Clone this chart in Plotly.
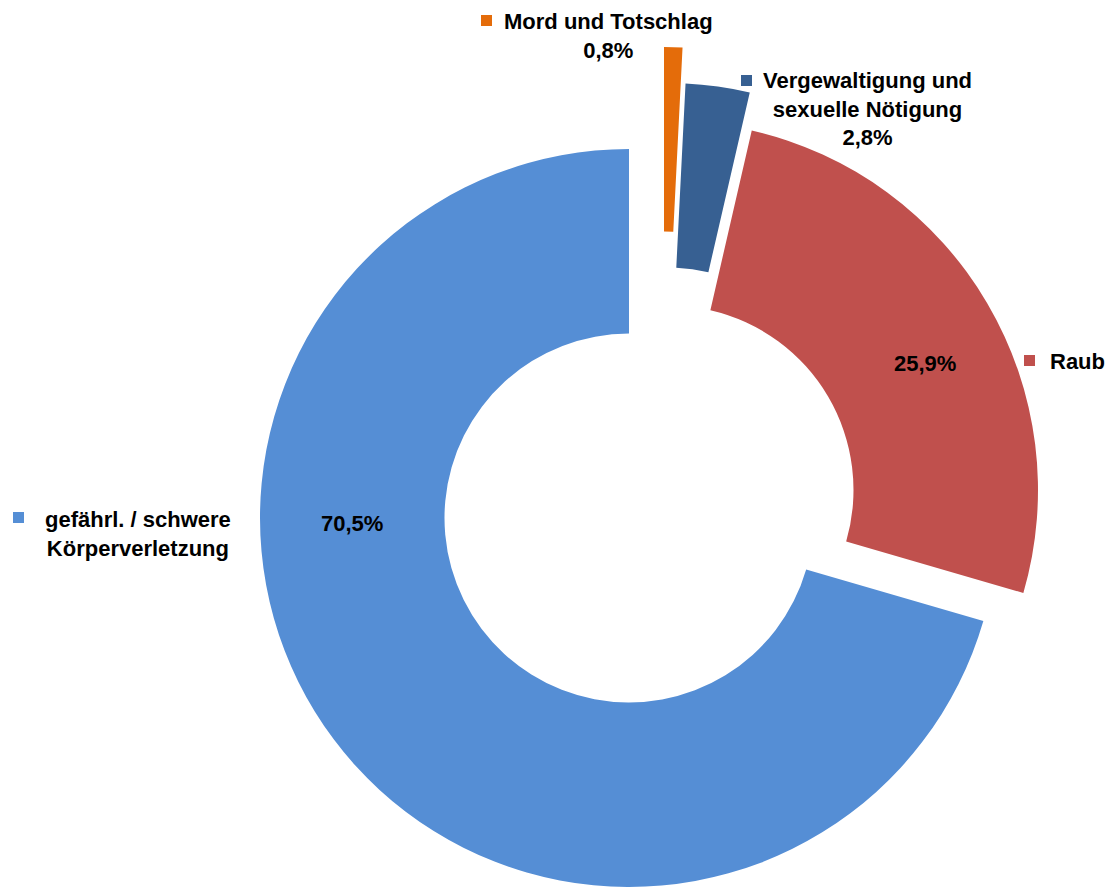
import plotly.graph_objects as go

# ------------------------ DATA ------------------------
categories = ["Mord und Totschlag", "Vergewaltigung und sexuelle Nötigung", "Raub", "gefährl. / schwere Körperverletzung"]
shares = [0.8, 2.8, 25.9, 70.5]
share_labels = ["0,8%", "2,8%", "25,9%", "70,5%"]
colors = ["#E46C0A", "#376092", "#C0504D", "#558ED5"]

# ------------------------ LAYOUT SETTINGS ------------------------
W, H = 1112, 888
R = 369  # outer radius in px
# centre of every (exploded) slice in px
centers = [(664, 416), (667, 452), (669, 490), (629, 518)]

fig = go.Figure()

# one pie per slice so each slice can be exploded on its own
for i, (cx, cy) in enumerate(centers):
    slice_colors = [colors[j] if j == i else "rgba(0,0,0,0)" for j in range(len(shares))]
    fig.add_trace(go.Pie(
        labels=categories, values=shares,
        sort=False, direction="clockwise", rotation=0, hole=0.5,
        marker=dict(colors=slice_colors, line=dict(width=0)),
        textinfo="none", hoverinfo="label+percent",
        showlegend=False,
        domain=dict(x=[(cx - R) / W, (cx + R) / W], y=[(H - cy - R) / H, (H - cy + R) / H]),
    ))

def px(x, y):
    return x / W, 1 - y / H

font = dict(family="Liberation Sans, Arial, sans-serif", size=22, color="black", weight="bold")

# ------------------------ LABELS ------------------------
label_text = [
    "Mord und Totschlag<br>" + share_labels[0],
    "Vergewaltigung und<br>sexuelle Nötigung<br>" + share_labels[1],
    "Raub",
    "gefährl. / schwere<br>Körperverletzung",
]
label_pos = [(608, 36), (867, 109), (1077, 361), (138, 534)]
key_pos = [(481, 15), (741, 75), (1024, 355), (13, 512)]

annotations = []
shapes = []
for i in range(len(categories)):
    x, y = px(*label_pos[i])
    annotations.append(dict(x=x, y=y, xref="paper", yref="paper", text=label_text[i],
                            showarrow=False, xanchor="center", yanchor="middle", font=font))
    kx, ky = key_pos[i]
    shapes.append(dict(type="rect", xref="paper", yref="paper",
                       x0=kx / W, x1=(kx + 11) / W, y0=1 - (ky + 11) / H, y1=1 - ky / H,
                       fillcolor=colors[i], line=dict(width=0)))

# percentages drawn inside the two big slices
for i, (x, y) in [(2, (925, 363)), (3, (352, 523))]:
    ax, ay = px(x, y)
    annotations.append(dict(x=ax, y=ay, xref="paper", yref="paper", text=share_labels[i],
                            showarrow=False, xanchor="center", yanchor="middle", font=font))

fig.update_layout(width=W, height=H, margin=dict(l=0, r=0, t=0, b=0),
                  paper_bgcolor="white", plot_bgcolor="white",
                  annotations=annotations, shapes=shapes)

# drop the default page margin so the figure sits at the window's top-left corner
fig.write_html("out.html", config={"displayModeBar": False},
               post_script="document.body.style.margin='0';")
